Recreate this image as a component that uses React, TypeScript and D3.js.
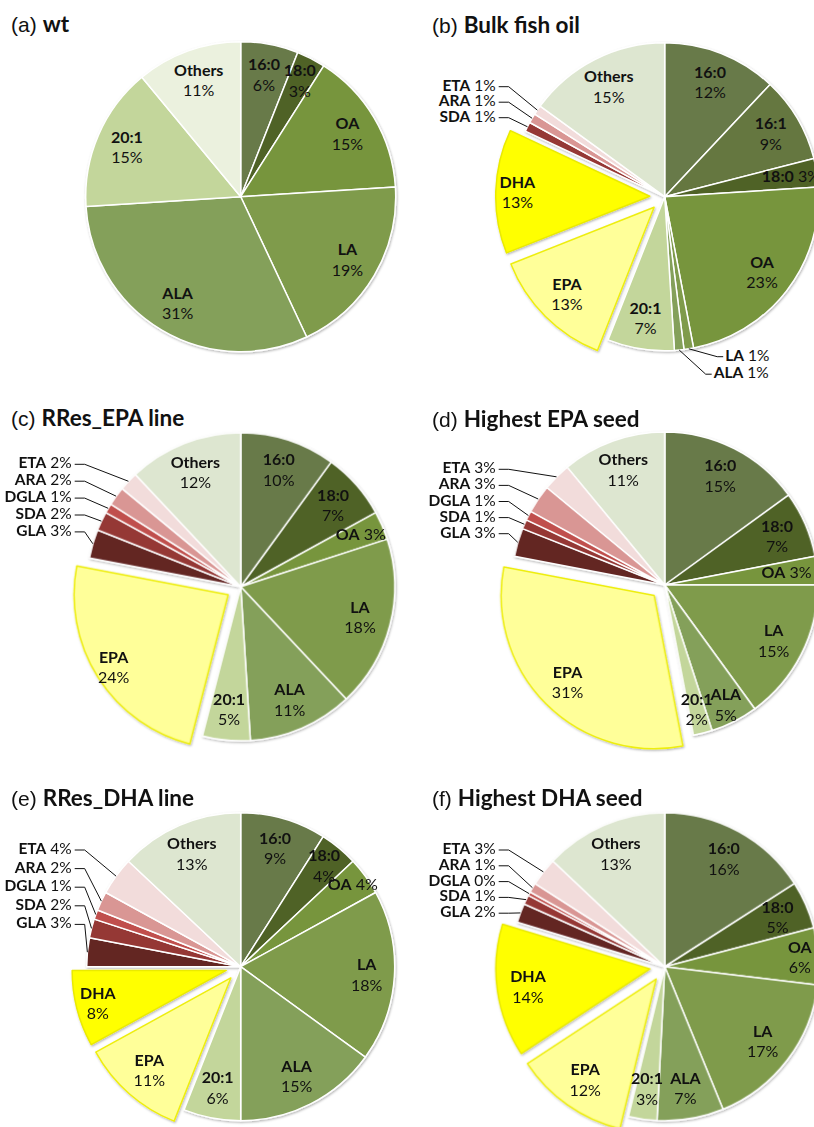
import * as d3 from 'd3'

const W = 814
const H = 1127

// (a) wt
const wtNames = ['16:0', '18:0', 'OA', 'LA', 'ALA', '20:1', 'Others']
const wtValues = [6, 3, 15, 19, 31, 15, 11]

// (b) Bulk fish oil
const bulkNames = ['16:0', '16:1', '18:0', 'OA', 'LA', 'ALA', '20:1', 'EPA', 'DHA', 'SDA', 'ARA', 'ETA', 'Others']
const bulkValues = [12, 9, 3, 23, 1, 1, 7, 13, 13, 1, 1, 1, 15]

// (c) RRes_EPA line / (d) Highest EPA seed
const epaNames = ['16:0', '18:0', 'OA', 'LA', 'ALA', '20:1', 'EPA', 'GLA', 'SDA', 'DGLA', 'ARA', 'ETA', 'Others']
const epaLineValues = [10, 7, 3, 18, 11, 5, 24, 3, 2, 1, 2, 2, 12]
const epaSeedValues = [15, 7, 3, 15, 5, 2, 31, 3, 1, 1, 3, 3, 11]

// (e) RRes_DHA line / (f) Highest DHA seed
const dhaNames = ['16:0', '18:0', 'OA', 'LA', 'ALA', '20:1', 'EPA', 'DHA', 'GLA', 'SDA', 'DGLA', 'ARA', 'ETA', 'Others']
const dhaLineValues = [9, 4, 4, 18, 15, 6, 11, 8, 3, 2, 1, 2, 4, 13]
const dhaSeedValues = [16, 5, 6, 17, 7, 3, 12, 14, 2, 1, 0.4, 1, 3, 13]

const COLORS: Record<string, string> = {
  '16:0': '#687a4a',
  '16:1': '#65773f',
  '18:0': '#4f6228',
  OA: '#77953d',
  LA: '#7f9b4c',
  ALA: '#84a05a',
  '20:1': '#c3d69b',
  EPA: '#ffff99',
  DHA: '#ffff00',
  GLA: '#632523',
  SDA: '#953735',
  DGLA: '#c0504d',
  ARA: '#d99694',
  ETA: '#f2dcdb',
  Others: '#dde6d0',
}

const EXPLODED = new Set(['EPA', 'DHA'])
const EXPLODE = 15
const FONT = 'Lato, "Open Sans", sans-serif'
const FS = 16

type Panel = {
  letter: string
  title: string
  names: string[]
  values: number[]
  ox: number
  cx: number
  cy: number
  r: number
  titleY: number
  othersColor?: string
  inline: Record<string, number>
  labelR: Record<string, number>
  callouts: string[]
  calloutTop: number
  calloutGap: number
  bottom?: Record<string, [number, number]>
}

const panels: Panel[] = [
  {
    letter: '(a)', title: 'wt', names: wtNames, values: wtValues,
    ox: 11, cx: 240.7, cy: 196.7, r: 155, titleY: 32,
    othersColor: '#ebf1de', inline: {}, labelR: { '18:0': 0.84 },
    callouts: [], calloutTop: 0, calloutGap: 0,
  },
  {
    letter: '(b)', title: 'Bulk fish oil', names: bulkNames, values: bulkValues,
    ox: 432, cx: 664.7, cy: 196.7, r: 154, titleY: 33,
    inline: { '18:0': 0.83 }, labelR: { DHA: 0.86 },
    callouts: ['ETA', 'ARA', 'SDA'], calloutTop: -106, calloutGap: 15.5,
    bottom: { LA: [60.5, 164], ALA: [49, 181.5] },
  },
  {
    letter: '(c)', title: 'RRes_EPA line', names: epaNames, values: epaLineValues,
    ox: 11, cx: 240.7, cy: 586.7, r: 154, titleY: 426,
    inline: { OA: 0.85 }, labelR: { EPA: 0.88 },
    callouts: ['ETA', 'ARA', 'DGLA', 'SDA', 'GLA'], calloutTop: -118.4, calloutGap: 16.9,
  },
  {
    letter: '(d)', title: 'Highest EPA seed', names: epaNames, values: epaSeedValues,
    ox: 432, cx: 664.7, cy: 585, r: 153, titleY: 426.5,
    inline: { OA: 0.8 }, labelR: { ALA: 0.88, '20:1': 0.84 },
    callouts: ['ETA', 'ARA', 'DGLA', 'SDA', 'GLA'], calloutTop: -111.7, calloutGap: 16.1,
  },
  {
    letter: '(e)', title: 'RRes_DHA line', names: dhaNames, values: dhaLineValues,
    ox: 11, cx: 240.7, cy: 966.7, r: 154, titleY: 806,
    inline: { OA: 0.9 }, labelR: { DHA: 0.86, LA: 0.82, '18:0': 0.85 },
    callouts: ['ETA', 'ARA', 'DGLA', 'SDA', 'GLA'], calloutTop: -112.7, calloutGap: 18.6,
  },
  {
    letter: '(f)', title: 'Highest DHA seed', names: dhaNames, values: dhaSeedValues,
    ox: 432, cx: 664.7, cy: 966.7, r: 154, titleY: 806,
    inline: {}, labelR: { OA: 0.88 },
    callouts: ['ETA', 'ARA', 'DGLA', 'SDA', 'GLA'], calloutTop: -112.7, calloutGap: 15.8,
  },
]

type Slice = { name: string; value: number }

function PiePanel({ p }: { p: Panel }) {
  const data: Slice[] = p.names.map((name, i) => ({ name, value: p.values[i] }))
  const arcs = d3.pie<Slice>().sort(null).value(d => d.value)(data)
  const arc = d3.arc<d3.PieArcDatum<Slice>>().innerRadius(0).outerRadius(p.r)
  const pct = (v: number) => `${Math.round(v)}%`
  const shift = (a: d3.PieArcDatum<Slice>) => {
    if (!EXPLODED.has(a.data.name)) return [0, 0]
    const m = (a.startAngle + a.endAngle) / 2
    return [Math.sin(m) * EXPLODE, -Math.cos(m) * EXPLODE]
  }
  const pointAt = (a: d3.PieArcDatum<Slice>, k: number) =>
    d3.arc<d3.PieArcDatum<Slice>>().innerRadius(p.r * k).outerRadius(p.r * k).centroid(a)

  const calloutSet = new Set([...p.callouts, ...Object.keys(p.bottom ?? {})])
  const xr = p.cx - 169

  return (
    <g>
      <text x={p.ox} y={p.titleY} fontSize={22.5} fill="#111">
        <tspan fontFamily='"Liberation Sans", Arial, sans-serif' fontSize={21}>{p.letter}</tspan>
        <tspan fontFamily={FONT} fontWeight="bold" dx={6}>{p.title}</tspan>
      </text>

      <g transform={`translate(${p.cx},${p.cy})`}>
        <g filter="url(#pieShadow)">
          {arcs.map(a => {
            const [dx, dy] = shift(a)
            const name = a.data.name
            const fill = name === 'Others' && p.othersColor ? p.othersColor : COLORS[name]
            const stroke = name === 'EPA' ? '#eeee10' : name === 'DHA' ? '#eaea00' : '#ffffff'
            return (
              <path
                key={name}
                d={arc(a) ?? ''}
                transform={`translate(${dx},${dy})`}
                fill={fill}
                stroke={stroke}
                strokeWidth={1.5}
                strokeLinejoin="round"
              />
            )
          })}
        </g>

        {arcs.map(a => {
          const name = a.data.name
          if (calloutSet.has(name)) return null
          const [dx, dy] = shift(a)
          if (p.inline[name] !== undefined) {
            const [x, y] = pointAt(a, p.inline[name])
            return (
              <text key={name} x={x + dx} y={y + dy + 5} textAnchor="middle" fontFamily={FONT} fontSize={FS} fill="#111">
                <tspan fontWeight="bold">{name}</tspan> {pct(a.data.value)}
              </text>
            )
          }
          const [x, y] = pointAt(a, p.labelR[name] ?? 0.8)
          return (
            <g key={name} fontFamily={FONT} fontSize={FS} fill="#111" textAnchor="middle">
              <text x={x + dx} y={y + dy - 4.5} fontWeight="bold">{name}</text>
              <text x={x + dx} y={y + dy + 16}>{pct(a.data.value)}</text>
            </g>
          )
        })}
      </g>

      {p.callouts.map((name, i) => {
        const a = arcs.find(d => d.data.name === name)
        if (!a) return null
        const y = p.cy + p.calloutTop + i * p.calloutGap
        const [ex, ey] = pointAt(a, 1)
        return (
          <g key={`c-${name}`}>
            <text x={xr} y={y} textAnchor="end" fontFamily={FONT} fontSize={FS - 0.5} fill="#111">
              <tspan fontWeight="bold">{name}</tspan> {pct(a.data.value)}
            </text>
            <polyline
              points={`${xr + 3},${y - 4} ${xr + 13},${y - 4} ${p.cx + ex},${p.cy + ey}`}
              fill="none"
              stroke="#111"
              strokeWidth={1}
            />
          </g>
        )
      })}

      {Object.entries(p.bottom ?? {}).map(([name, [lx, ly]]) => {
        const a = arcs.find(d => d.data.name === name)
        if (!a) return null
        const [ex, ey] = pointAt(a, 1)
        const x = p.cx + lx
        const y = p.cy + ly
        return (
          <g key={`b-${name}`}>
            <polyline
              points={`${p.cx + ex},${p.cy + ey} ${x - 8},${y - 4} ${x - 2},${y - 4}`}
              fill="none"
              stroke="#111"
              strokeWidth={1}
            />
            <text x={x} y={y} fontFamily={FONT} fontSize={FS - 0.5} fill="#111">
              <tspan fontWeight="bold">{name}</tspan> {pct(a.data.value)}
            </text>
          </g>
        )
      })}
    </g>
  )
}

export default function App() {
  return (
    <svg
      width={W}
      height={H}
      viewBox={`0 0 ${W} ${H}`}
      style={{ position: 'absolute', left: 0, top: 0, background: '#fff' }}
    >
      <defs>
        <filter id="pieShadow" x="-10%" y="-10%" width="120%" height="120%">
          <feDropShadow dx={0.8} dy={1.2} stdDeviation={1.2} floodColor="#000" floodOpacity={0.3} />
        </filter>
      </defs>
      <rect width={W} height={H} fill="#fff" />
      {panels.map(p => (
        <PiePanel key={p.letter} p={p} />
      ))}
    </svg>
  )
}
